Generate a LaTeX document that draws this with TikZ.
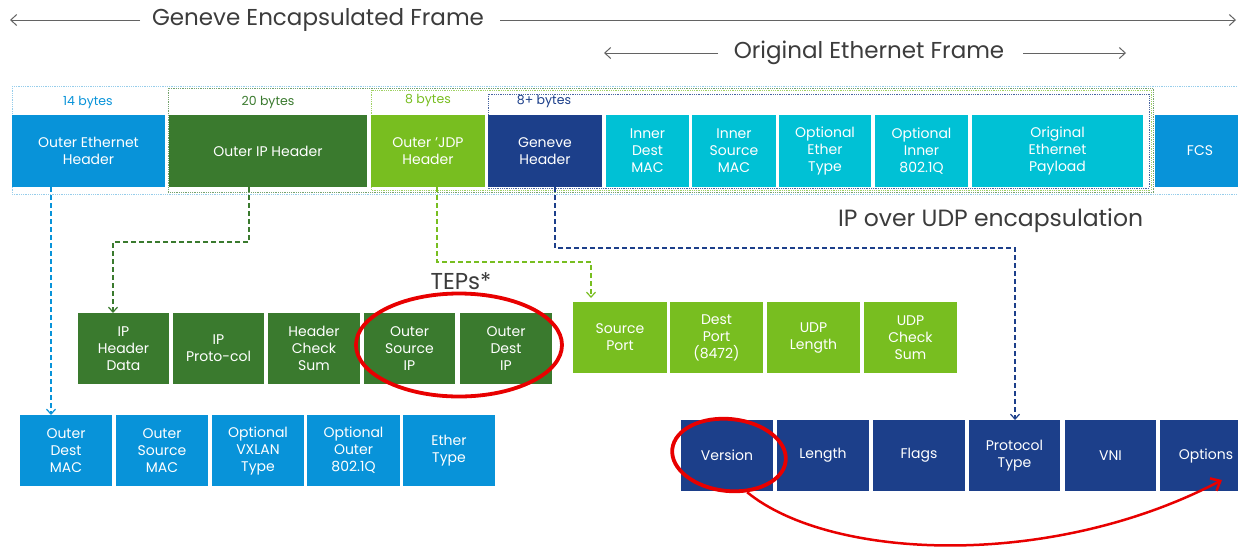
\documentclass[tikz,border=0pt]{standalone}
\usepackage{fontspec}
\setmainfont{Poppins}
\usetikzlibrary{arrows.meta,shapes.geometric}
\definecolor{cBlue}{RGB}{8,147,217}
\definecolor{cDkGreen}{RGB}{58,122,46}
\definecolor{cLtGreen}{RGB}{120,190,32}
\definecolor{cNavy}{RGB}{28,63,138}
\definecolor{cCyan}{RGB}{0,193,213}
\definecolor{cText}{RGB}{60,60,60}
\definecolor{cRed}{RGB}{232,0,0}
\definecolor{cLtBlueDot}{RGB}{150,205,235}
\begin{document}
\begin{tikzpicture}[x=1pt,y=-1pt,
  fbox/.style={fill=#1, text=white, inner sep=0pt, outer sep=0pt, align=center,
    anchor=north west, font=\fontsize{14}{17}\selectfont},
  rowbox/.style={fbox=#1, minimum width=92, minimum height=71},
  bytes/.style={text=#1, font=\fontsize{12.5}{15}\selectfont, inner sep=0pt},
  title/.style={text=cText, font=\fontsize{23}{26}\selectfont, inner sep=0pt},
  harrow/.style={draw=cText!80, line width=1, -{Straight Barb[length=6pt,width=11pt]}},
  dconn/.style={draw=#1, line width=1.2, dash pattern=on 5pt off 3pt,
    -{Straight Barb[length=5pt,width=9pt]}},
  dotframe/.style={draw=#1, line width=0.8, densely dotted},
  ring/.style={draw=cRed, line width=3.8, ellipse, inner sep=0pt}
]
\clip (0,0) rectangle (1238,550);
\fill[white] (0,0) rectangle (1238,550);

% titles
\node[title] (gef) at (318,20) {Geneve Encapsulated Frame};
\coordinate (gefL0) at (140,20);
\coordinate (gefL1) at (10,20);
\coordinate (gefR0) at (500,20);
\coordinate (gefR1) at (1236,20);
\draw[harrow] (gefL0) -- (gefL1);
\draw[harrow] (gefR0) -- (gefR1);

\node[title] (oef) at (869,53) {Original Ethernet Frame};
\coordinate (oefL0) at (718,53);
\coordinate (oefL1) at (604,53);
\coordinate (oefR0) at (1023,53);
\coordinate (oefR1) at (1126,53);
\draw[harrow] (oefL0) -- (oefL1);
\draw[harrow] (oefR0) -- (oefR1);

% dotted frames
\draw[dotframe=cLtBlueDot] (12,86) rectangle (1250,194);
\draw[dotframe=cDkGreen!70] (168,88) rectangle (1153,192);
\draw[dotframe=cLtGreen!70] (371,90) rectangle (1151,190);
\draw[dotframe=cNavy!80] (488,94) rectangle (1149,188);

% byte labels
\node[bytes=cBlue] (b14) at (88,102) {14 bytes};
\node[bytes=cDkGreen] (b20) at (268,102) {20 bytes};
\node[bytes=cLtGreen] (b8) at (428,100) {8 bytes};
\node[bytes=cNavy] (b8p) at (544,101) {8+ bytes};

% frame row
\node[fbox=cBlue, minimum width=153, minimum height=72] (oeth) at (12,115) {Outer Ethernet\\Header};
\node[fbox=cDkGreen, minimum width=198, minimum height=72] (oip) at (169,115) {Outer IP Header};
\node[fbox=cLtGreen, minimum width=114, minimum height=72] (oudp) at (371,115) {Outer 'JDP\\Header};
\node[fbox=cNavy, minimum width=114, minimum height=72] (gen) at (488,115) {Geneve\\Header};
\node[fbox=cCyan, minimum width=83, minimum height=72] (idmac) at (606,115) {Inner\\Dest\\MAC};
\node[fbox=cCyan, minimum width=84, minimum height=72] (ismac) at (692,115) {Inner\\Source\\MAC};
\node[fbox=cCyan, minimum width=92, minimum height=72] (oet) at (779,115) {Optional\\Ether\\Type};
\node[fbox=cCyan, minimum width=93, minimum height=72] (oiq) at (875,115) {Optional\\Inner\\802.1Q};
\node[fbox=cCyan, minimum width=171, minimum height=72] (oep) at (972,115) {Original\\Ethernet\\Payload};
\node[fbox=cBlue, minimum width=90, minimum height=72] (fcs) at (1155,115) {FCS};

\node[title, anchor=west, font=\fontsize{23.5}{26}\selectfont] (ipudp) at (838,221) {IP over UDP encapsulation};

% IP header row
\node[rowbox=cDkGreen, minimum width=91] (iphd) at (78,313) {IP\\Header\\Data};
\node[rowbox=cDkGreen, minimum width=91] (ipproto) at (173,313) {IP\\Proto-col};
\node[rowbox=cDkGreen] (hcs) at (268,313) {Header\\Check\\Sum};
\node[rowbox=cDkGreen, minimum width=91] (osip) at (364,313) {Outer\\Source\\IP};
\node[rowbox=cDkGreen] (odip) at (460,313) {Outer\\Dest\\IP};
\node[title] (teps) at (461,281) {TEPs*};

% UDP row
\node[rowbox=cLtGreen, minimum width=94] (sport) at (573,302) {Source\\Port};
\node[rowbox=cLtGreen, minimum width=93] (dport) at (670,302) {Dest\\Port\\(8472)};
\node[rowbox=cLtGreen, minimum width=93] (ulen) at (767,302) {UDP\\Length};
\node[rowbox=cLtGreen, minimum width=93] (ucs) at (864,302) {UDP\\Check\\Sum};

% Ethernet row
\node[rowbox=cBlue] (odmac) at (20,415) {Outer\\Dest\\MAC};
\node[rowbox=cBlue] (osmac) at (116,415) {Outer\\Source\\MAC};
\node[rowbox=cBlue] (ovx) at (212,415) {Optional\\VXLAN\\Type};
\node[rowbox=cBlue, minimum width=93] (ooq) at (307,415) {Optional\\Outer\\802.1Q};
\node[rowbox=cBlue] (etype) at (403,415) {Ether\\Type};

% Geneve row
\node[rowbox=cNavy] (ver) at (681,420) {Version};
\node[rowbox=cNavy] (len) at (777,420) {Length};
\node[rowbox=cNavy] (flags) at (873,420) {Flags};
\node[rowbox=cNavy, minimum width=91] (ptype) at (969,420) {Protocol\\Type};
\node[rowbox=cNavy, minimum width=91] (vni) at (1065,420) {VNI};
\node[rowbox=cNavy] (opts) at (1160,420) {Options};

% dashed connectors
\draw[dconn=cBlue] ([xshift=39pt]oeth.south west) -- ([xshift=31pt]odmac.north west);
\draw[dconn=cDkGreen] ([xshift=80pt]oip.south west) -- ++(0,55) -| ([xshift=35pt]iphd.north west);
\draw[dconn=cLtGreen, shorten >=4pt] ([xshift=66pt]oudp.south west) -- ++(0,75) -| ([xshift=18pt]sport.north west);
\draw[dconn=cNavy] ([xshift=67pt]gen.south west) -- ++(0,61) -| ([xshift=46pt]ptype.north west);

% red annotations
\node[ring, minimum width=206, minimum height=103] (tepring) at (459,345) {};
\node[ring, minimum width=114, minimum height=72, rotate=-6] (vring) at (729,455) {};
\coordinate (optarr) at (1222,480);
\draw[draw=cRed, line width=2.5, -{Straight Barb[length=8pt,width=14pt]}]
  (vring.-58) .. controls (830,560) and (1050,570) .. (optarr);
\end{tikzpicture}
\end{document}
